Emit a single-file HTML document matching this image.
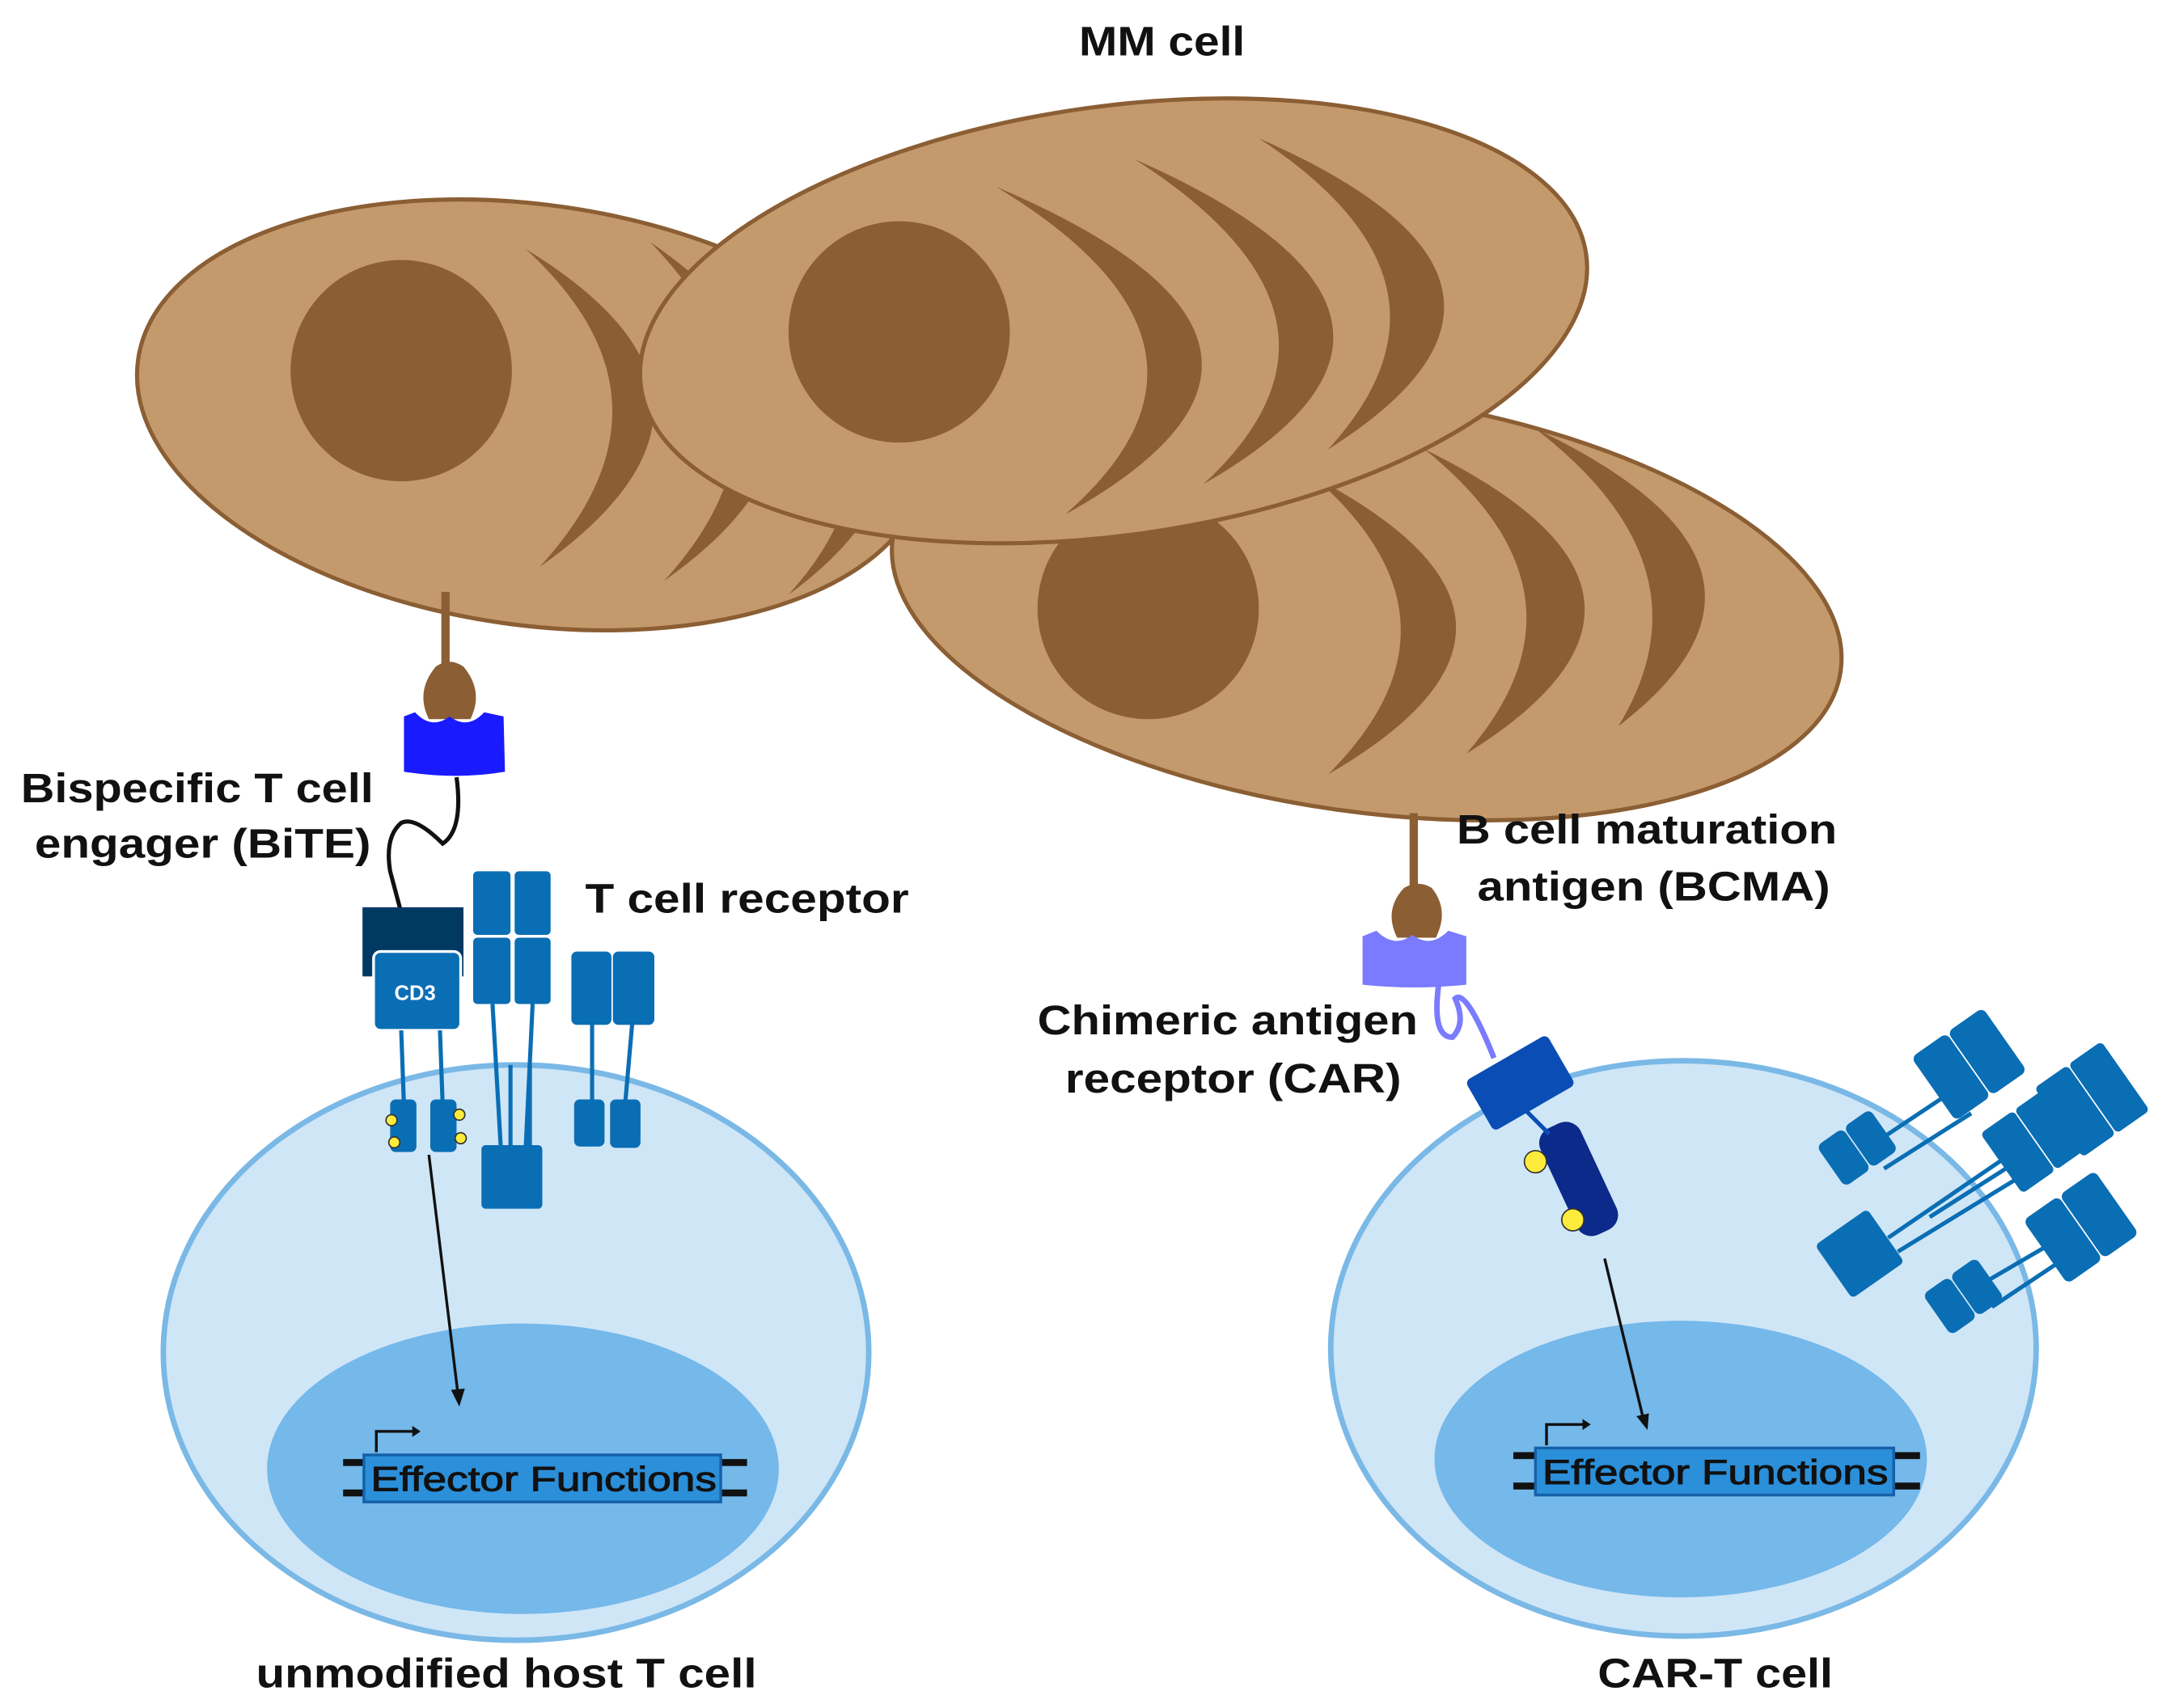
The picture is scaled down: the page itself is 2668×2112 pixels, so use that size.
<!DOCTYPE html>
<html><head><meta charset="utf-8"><style>html,body{margin:0;padding:0;background:#fff}svg{display:block}</style></head><body>
<svg width="2668" height="2112" viewBox="0 0 1560 1235" xmlns="http://www.w3.org/2000/svg" font-family="Liberation Sans, sans-serif" font-weight="bold">
<rect width="1560" height="1235" fill="#fff"/>
<!-- left MM cell -->
<g>
<ellipse cx="385" cy="300" rx="288" ry="152" transform="rotate(8 385 300)" fill="#c49a6c" stroke="#8b5e34" stroke-width="3"/>
<circle cx="290" cy="268" r="80" fill="#8b5e34"/>
<path d="M380,180 Q560,290 390,410 Q500,290 380,180Z" fill="#8b5e34"/>
<path d="M470,175 Q650,300 480,420 Q590,300 470,175Z" fill="#8b5e34"/>
<path d="M560,200 Q720,320 570,430 Q670,320 560,200Z" fill="#8b5e34"/>
</g>
<!-- right MM cell -->
<g>
<ellipse cx="988" cy="437" rx="346" ry="150" transform="rotate(8 988 437)" fill="#c49a6c" stroke="#8b5e34" stroke-width="3"/>
<circle cx="830" cy="440" r="80" fill="#8b5e34"/>
<path d="M950,345 Q1150,450 960,560 Q1070,450 950,345Z" fill="#8b5e34"/>
<path d="M1030,325 Q1245,430 1060,545 Q1160,430 1030,325Z" fill="#8b5e34"/>
<path d="M1110,310 Q1320,410 1170,525 Q1240,410 1110,310Z" fill="#8b5e34"/>
</g>
<!-- middle MM cell -->
<g>
<ellipse cx="805" cy="232" rx="345" ry="155" transform="rotate(-8 805 232)" fill="#c49a6c" stroke="#8b5e34" stroke-width="3"/>
<circle cx="650" cy="240" r="80" fill="#8b5e34"/>
<path d="M720,135 Q990,250 770,372 Q910,250 720,135Z" fill="#8b5e34"/>
<path d="M820,115 Q1080,230 870,350 Q1000,230 820,115Z" fill="#8b5e34"/>
<path d="M910,100 Q1150,205 960,325 Q1070,205 910,100Z" fill="#8b5e34"/>
</g>
<text x="780" y="40" font-size="30" textLength="120" lengthAdjust="spacingAndGlyphs" fill="#111">MM cell</text>

<!-- left T cell -->
<ellipse cx="373" cy="978" rx="255" ry="208" fill="#cfe6f7" stroke="#7ab8e6" stroke-width="4"/>
<ellipse cx="378" cy="1062" rx="185" ry="105" fill="#75b8ea"/>
<rect x="248" y="1055" width="18" height="5" fill="#111"/><rect x="248" y="1077" width="18" height="5" fill="#111"/>
<rect x="520" y="1055" width="20" height="5" fill="#111"/><rect x="520" y="1077" width="20" height="5" fill="#111"/>
<rect x="263" y="1052" width="258" height="34" fill="#2b8fd9" stroke="#1560a8" stroke-width="2"/>
<text x="268" y="1078" font-size="25" font-weight="normal" textLength="250" lengthAdjust="spacingAndGlyphs" fill="#111" stroke="#111" stroke-width="0.6">Effector Functions</text>
<path d="M272,1050 V1035 H300" fill="none" stroke="#111" stroke-width="2"/><path d="M298,1031 L304,1035 L298,1039Z" fill="#111"/>
<line x1="310" y1="835" x2="331" y2="1008" stroke="#111" stroke-width="2"/><path d="M326,1005 L332,1017 L336,1004Z" fill="#111"/>

<!-- left BCMA + BiTE -->
<line x1="322" y1="428" x2="322" y2="485" stroke="#8b5e34" stroke-width="6"/>
<path d="M310,520 Q300,500 315,482 Q325,475 335,482 Q350,500 340,520 Z" fill="#8b5e34"/>
<path d="M292,518 L300,515 Q312,528 325,518 Q338,528 350,515 L364,518 L365,558 Q330,564 292,558 Z" fill="#1a1aff"/>
<path d="M330,562 Q335,600 320,610 Q300,590 290,595 Q278,605 282,630 L290,660" fill="none" stroke="#111" stroke-width="3"/>
<rect x="262" y="656" width="73" height="50" fill="#003a63"/>
<rect x="270" y="688" width="63" height="57" rx="5" fill="#0a6eb4" stroke="#fff" stroke-width="2"/>
<text x="300" y="723" font-size="15" text-anchor="middle" fill="#fff">CD3</text>
<line x1="290" y1="745" x2="292" y2="800" stroke="#0a6eb4" stroke-width="3"/><line x1="318" y1="745" x2="320" y2="800" stroke="#0a6eb4" stroke-width="3"/>
<rect x="282" y="795" width="19" height="38" rx="4" fill="#0a6eb4"/><rect x="311" y="795" width="19" height="38" rx="4" fill="#0a6eb4"/>
<g fill="#ffeb3b" stroke="#333" stroke-width="1"><circle cx="283" cy="810" r="4"/><circle cx="285" cy="826" r="4"/><circle cx="332" cy="806" r="4"/><circle cx="333" cy="823" r="4"/></g>
<!-- TCR -->
<g fill="#0a6eb4">
<rect x="342" y="630" width="27" height="46" rx="3"/><rect x="372" y="630" width="26" height="46" rx="3"/>
<rect x="342" y="678" width="27" height="48" rx="3"/><rect x="372" y="678" width="26" height="48" rx="3"/>
<rect x="348" y="828" width="44" height="46" rx="3"/>
<rect x="413" y="688" width="29" height="53" rx="4"/><rect x="443" y="688" width="30" height="53" rx="4"/>
<rect x="415" y="795" width="22" height="34" rx="4"/><rect x="441" y="795" width="22" height="35" rx="4"/>
</g>
<g stroke="#0a6eb4" stroke-width="3"><line x1="356" y1="726" x2="362" y2="830"/><line x1="385" y1="726" x2="380" y2="830"/><line x1="369" y1="770" x2="369" y2="830"/><line x1="383" y1="770" x2="383" y2="830"/><line x1="428" y1="740" x2="428" y2="797"/><line x1="457" y1="740" x2="452" y2="797"/></g>

<text x="15" y="580" font-size="30" textLength="255" lengthAdjust="spacingAndGlyphs" fill="#111">Bispecific T cell</text>
<text x="25" y="620" font-size="30" textLength="243" lengthAdjust="spacingAndGlyphs" fill="#111">engager (BiTE)</text>
<text x="423" y="660" font-size="30" textLength="234" lengthAdjust="spacingAndGlyphs" fill="#111">T cell receptor</text>

<!-- right T cell -->
<ellipse cx="1217" cy="975" rx="255" ry="208" fill="#cfe6f7" stroke="#7ab8e6" stroke-width="4"/>
<ellipse cx="1215" cy="1055" rx="178" ry="100" fill="#75b8ea"/>
<rect x="1094" y="1050" width="18" height="5" fill="#111"/><rect x="1094" y="1072" width="18" height="5" fill="#111"/>
<rect x="1368" y="1050" width="20" height="5" fill="#111"/><rect x="1368" y="1072" width="20" height="5" fill="#111"/>
<rect x="1110" y="1047" width="259" height="34" fill="#2b8fd9" stroke="#1560a8" stroke-width="2"/>
<text x="1115" y="1073" font-size="25" font-weight="normal" textLength="250" lengthAdjust="spacingAndGlyphs" fill="#111" stroke="#111" stroke-width="0.6">Effector Functions</text>
<path d="M1118,1045 V1030 H1146" fill="none" stroke="#111" stroke-width="2"/><path d="M1144,1026 L1150,1030 L1144,1034Z" fill="#111"/>
<line x1="1160" y1="910" x2="1188" y2="1026" stroke="#111" stroke-width="2"/><path d="M1183,1024 L1191,1034 L1192,1022Z" fill="#111"/>

<line x1="1022" y1="588" x2="1022" y2="645" stroke="#8b5e34" stroke-width="6"/>
<path d="M1010,678 Q1000,658 1015,642 Q1025,636 1035,642 Q1048,658 1038,678 Z" fill="#8b5e34"/>
<path d="M985,677 L995,673 Q1008,686 1021,676 Q1034,686 1047,673 L1060,677 L1060,712 Q1022,716 985,712 Z" fill="#7b7bff"/>
<path d="M1040,712 Q1035,750 1050,750 Q1060,740 1052,722 Q1060,715 1080,765" fill="none" stroke="#7b7bff" stroke-width="4"/>
<rect x="1065" y="762" width="68" height="42" rx="4" fill="#0a4db4" transform="rotate(-30 1099 783)"/>
<rect x="1125" y="810" width="32" height="85" rx="12" fill="#0b2a8a" transform="rotate(-25 1141 852)"/>
<line x1="1100" y1="800" x2="1120" y2="820" stroke="#0a4db4" stroke-width="3"/>
<g fill="#ffeb3b" stroke="#333" stroke-width="1"><circle cx="1110" cy="840" r="8"/><circle cx="1137" cy="882" r="8"/></g>

<!-- right receptors -->
<g fill="#0a6eb4" stroke="#0a6eb4">
<g transform="rotate(-35 1420 775)"><rect x="1395" y="745" width="30" height="55" rx="4"/><rect x="1427" y="745" width="30" height="55" rx="4"/></g>
<g transform="rotate(-35 1340 835)"><rect x="1322" y="815" width="22" height="35" rx="4"/><rect x="1346" y="815" width="22" height="35" rx="4"/></g>
<line x1="1350" y1="830" x2="1410" y2="790" stroke-width="3"/><line x1="1362" y1="845" x2="1425" y2="805" stroke-width="3"/>
<g transform="rotate(-35 1505 800)"><rect x="1485" y="770" width="28" height="60" rx="3"/><rect x="1515" y="770" width="28" height="60" rx="3"/></g>
<g transform="rotate(-35 1470 830)"><rect x="1445" y="800" width="28" height="52" rx="3"/><rect x="1475" y="800" width="28" height="52" rx="3"/></g>
<g transform="rotate(-35 1350 905)"><rect x="1322" y="880" width="45" height="46" rx="3"/></g>
<line x1="1365" y1="895" x2="1460" y2="830" stroke-width="3"/><line x1="1372" y1="905" x2="1470" y2="845" stroke-width="3"/><line x1="1395" y1="880" x2="1450" y2="845" stroke-width="3"/>
<g transform="rotate(-35 1505 890)"><rect x="1475" y="860" width="30" height="55" rx="4"/><rect x="1507" y="860" width="30" height="55" rx="4"/></g>
<g transform="rotate(-35 1420 940)"><rect x="1398" y="920" width="22" height="35" rx="4"/><rect x="1422" y="920" width="22" height="35" rx="4"/></g>
<line x1="1430" y1="930" x2="1490" y2="895" stroke-width="3"/><line x1="1440" y1="945" x2="1500" y2="905" stroke-width="3"/>
</g>

<text x="1053" y="610" font-size="30" textLength="275" lengthAdjust="spacingAndGlyphs" fill="#111">B cell maturation</text>
<text x="1068" y="651" font-size="30" textLength="255" lengthAdjust="spacingAndGlyphs" fill="#111">antigen (BCMA)</text>
<text x="750" y="748" font-size="30" textLength="275" lengthAdjust="spacingAndGlyphs" fill="#111">Chimeric antigen</text>
<text x="770" y="790" font-size="30" textLength="243" lengthAdjust="spacingAndGlyphs" fill="#111">receptor (CAR)</text>
<text x="185" y="1220" font-size="30" textLength="362" lengthAdjust="spacingAndGlyphs" fill="#111">unmodified host T cell</text>
<text x="1155" y="1220" font-size="30" textLength="170" lengthAdjust="spacingAndGlyphs" fill="#111">CAR-T cell</text>
</svg>
</body></html>
